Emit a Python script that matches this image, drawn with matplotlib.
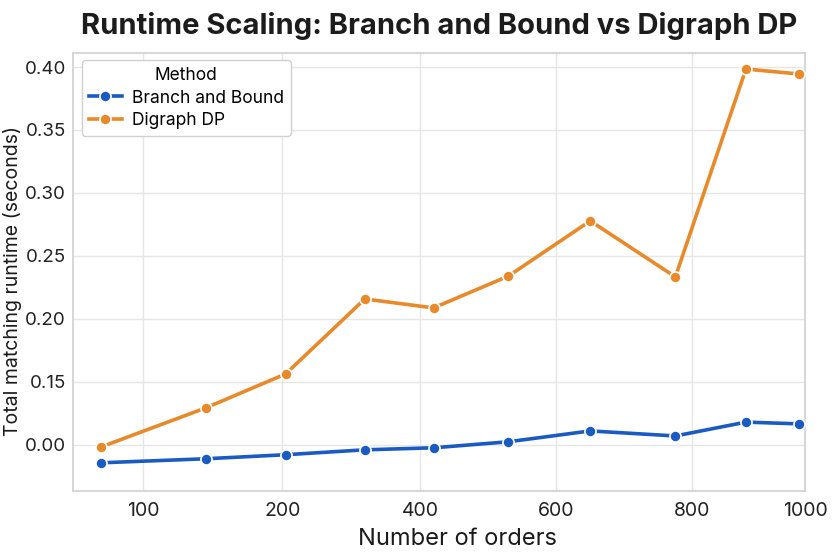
import matplotlib.pyplot as plt
import numpy as np
from matplotlib.ticker import FixedLocator, FixedFormatter

# data
orders = [70, 145, 205, 320, 420, 530, 650, 775, 895, 990]
branch_bound = [0.0857, 0.0889, 0.0921, 0.0960, 0.0976, 0.1024, 0.1110, 0.1070, 0.1180, 0.1166]
digraph_dp = [0.0984, 0.1293, 0.1563, 0.2158, 0.2087, 0.2340, 0.2778, 0.2333, 0.3984, 0.3944]

x_ticks = [100, 200, 400, 600, 800, 1000]
y_ticks = [0.10, 0.15, 0.20, 0.25, 0.30, 0.35, 0.40]
y_tick_labels = ["0.00", "0.15", "0.20", "0.25", "0.30", "0.35", "0.40"]

# x axis in the picture is not linear: ticks are (nearly) evenly spaced
x_knots = np.array([100, 200, 400, 600, 800, 1000], float)
x_pos = np.array([0.0, 1.0, 1.99, 2.97, 3.95, 4.76])


def _pw(v, a, b):
    v = np.asarray(v, float)
    flat = np.atleast_1d(v).astype(float)
    out = np.interp(flat, a, b)
    lo = flat < a[0]
    hi = flat > a[-1]
    out[lo] = b[0] + (flat[lo] - a[0]) * (b[1] - b[0]) / (a[1] - a[0])
    out[hi] = b[-1] + (flat[hi] - a[-1]) * (b[-1] - b[-2]) / (a[-1] - a[-2])
    return out.reshape(v.shape)


def fwd(v):
    return _pw(v, x_knots, x_pos)


def inv(p):
    return _pw(p, x_pos, x_knots)


plt.rcParams['font.family'] = ['Inter', 'DejaVu Sans']

fig = plt.figure(figsize=(8.36, 5.57), dpi=100)
ax = fig.add_axes([0.0873, 0.1185, 0.8757, 0.7863])

blue = '#1a5bc2'
orange = '#e88a2a'

ax.set_xscale('function', functions=(fwd, inv))
ax.plot(orders, branch_bound, color=blue, lw=2.6, marker='o', ms=8,
        mec='white', mew=1.2, label='Branch and Bound', zorder=3)
ax.plot(orders, digraph_dp, color=orange, lw=2.6, marker='o', ms=8,
        mec='white', mew=1.2, label='Digraph DP', zorder=3)

ax.set_xlim(49.5, 1000)
ax.set_ylim(0.0633, 0.4111)
ax.xaxis.set_major_locator(FixedLocator(x_ticks))
ax.xaxis.set_major_formatter(FixedFormatter([str(t) for t in x_ticks]))
ax.xaxis.set_minor_locator(FixedLocator([]))
ax.yaxis.set_major_locator(FixedLocator(y_ticks))
ax.yaxis.set_major_formatter(FixedFormatter(y_tick_labels))

ax.grid(True, color='#e6e6e6', lw=1)
ax.set_axisbelow(True)
for s in ax.spines.values():
    s.set_color('#d0d0d0')
    s.set_linewidth(1.2)
ax.tick_params(axis='x', length=0, labelsize=14, colors='#222222', pad=8)
ax.tick_params(axis='y', length=0, labelsize=13.5, colors='#222222', pad=5)

ax.set_xlabel('Number of orders', fontsize=17, color='#1a1a1a', labelpad=5)
ax.xaxis.set_label_coords(0.525, -0.085)
ax.set_ylabel('Total matching runtime (seconds)', fontsize=14, color='#1a1a1a', labelpad=2)
ax.yaxis.set_label_coords(-0.07, 0.48)
ax.set_title('Runtime Scaling: Branch and Bound vs Digraph DP', fontsize=21,
             fontweight='bold', color='#1c1c1c', pad=14)

leg = ax.legend(title='Method', loc='upper left', fontsize=12.5, title_fontsize=12.5,
                frameon=True, fancybox=True, edgecolor='#d0d0d0', framealpha=1,
                borderpad=0.4, labelspacing=0.3, handlelength=1.9, handletextpad=0.6,
                bbox_to_anchor=(0.0, 1.003))
leg.get_frame().set_linewidth(1)

fig.savefig('out.png', dpi=100, facecolor='white')
